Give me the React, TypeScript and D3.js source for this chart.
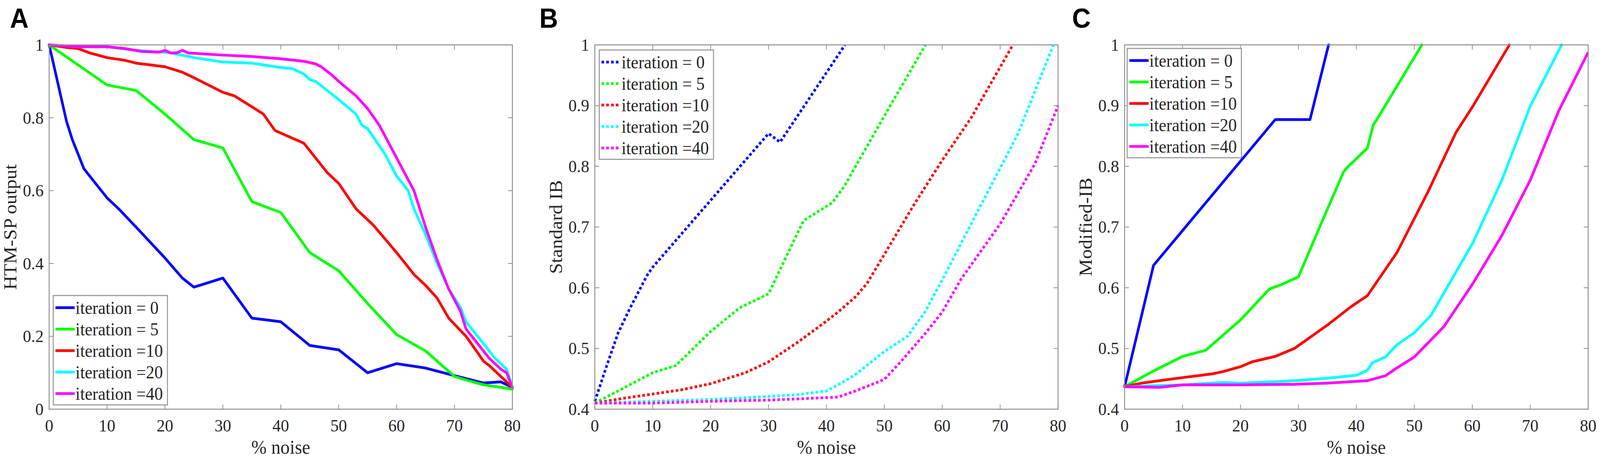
import React from 'react';
import * as d3 from 'd3';

type Pt = [number, number];

// axis ticks
const noiseTicks = [0, 10, 20, 30, 40, 50, 60, 70, 80];
const htmTicks = [0, 0.2, 0.4, 0.6, 0.8, 1];
const ibTicks = [0.4, 0.5, 0.6, 0.7, 0.8, 0.9, 1];

const legendLabels = ['iteration = 0', 'iteration = 5', 'iteration =10', 'iteration =20', 'iteration =40'];
const seriesColors = ['#0000ff', '#00ff00', '#ff0000', '#00ffff', '#ff00ff'];

// Panel A: HTM-SP output vs % noise
const htmIter0: Pt[] = [[0, 1], [1, 0.93], [2, 0.86], [3, 0.79], [4, 0.74], [6, 0.66], [8, 0.62], [10, 0.58], [12, 0.55], [15, 0.5], [20, 0.415], [23, 0.36], [25, 0.335], [30, 0.36], [35, 0.25], [40, 0.24], [45, 0.175], [50, 0.163], [55, 0.1], [60, 0.125], [65, 0.113], [70, 0.092], [75, 0.072], [78, 0.075], [80, 0.06]];
const htmIter5: Pt[] = [[0, 1], [5, 0.945], [10, 0.89], [15, 0.875], [20, 0.81], [25, 0.74], [30, 0.717], [35, 0.57], [40, 0.54], [45, 0.43], [50, 0.38], [55, 0.29], [60, 0.205], [65, 0.16], [70, 0.09], [72, 0.08], [75, 0.067], [78, 0.06], [80, 0.055]];
const htmIter10: Pt[] = [[0, 1], [3, 0.993], [5, 0.99], [7, 0.978], [10, 0.965], [13, 0.958], [15, 0.95], [20, 0.94], [23, 0.925], [25, 0.91], [30, 0.87], [32, 0.86], [35, 0.83], [37, 0.81], [39, 0.765], [44, 0.73], [48, 0.65], [50, 0.62], [53, 0.55], [56, 0.505], [60, 0.43], [63, 0.37], [65, 0.34], [67, 0.305], [69, 0.25], [72, 0.2], [74, 0.155], [75, 0.132], [76, 0.12], [78, 0.09], [80, 0.06]];
const htmIter20: Pt[] = [[0, 1], [5, 0.995], [10, 0.995], [15, 0.985], [20, 0.98], [22, 0.975], [25, 0.965], [30, 0.953], [35, 0.95], [37, 0.945], [40, 0.938], [42, 0.935], [44, 0.92], [45, 0.905], [46, 0.9], [50, 0.85], [53, 0.81], [54, 0.78], [55, 0.77], [58, 0.7], [60, 0.64], [62, 0.6], [63, 0.55], [65, 0.48], [67, 0.4], [69, 0.33], [71, 0.28], [72, 0.24], [75, 0.18], [77, 0.14], [79, 0.11], [80, 0.06]];
const htmIter40: Pt[] = [[0, 1], [5, 0.995], [10, 0.995], [13, 0.99], [16, 0.982], [19, 0.98], [20, 0.985], [21, 0.978], [22, 0.978], [23, 0.985], [24, 0.978], [30, 0.972], [35, 0.968], [40, 0.962], [44, 0.955], [46, 0.948], [47, 0.94], [49, 0.915], [50, 0.9], [53, 0.86], [55, 0.825], [57, 0.78], [60, 0.69], [63, 0.6], [65, 0.5], [67, 0.41], [69, 0.33], [71, 0.27], [72, 0.22], [74, 0.18], [76, 0.14], [78, 0.11], [79, 0.1], [80, 0.06]];

// Panel B: Standard IB
const stdIter0: Pt[] = [[0, 0.413], [2, 0.47], [4, 0.525], [6, 0.565], [9, 0.62], [10, 0.634], [30, 0.854], [32, 0.84], [43.2, 1]];
const stdIter5: Pt[] = [[0, 0.41], [5, 0.435], [10, 0.46], [14, 0.472], [20, 0.528], [25, 0.567], [30, 0.59], [35.2, 0.694], [36.1, 0.711], [41, 0.74], [43, 0.766], [50, 0.883], [57.1, 1]];
const stdIter10: Pt[] = [[0, 0.41], [5, 0.418], [10, 0.425], [15, 0.432], [20, 0.442], [26, 0.46], [30, 0.478], [35, 0.51], [40, 0.545], [42, 0.56], [45, 0.585], [47, 0.607], [50, 0.655], [55, 0.735], [60, 0.81], [65, 0.88], [72.2, 1]];
const stdIter20: Pt[] = [[0, 0.41], [10, 0.413], [20, 0.416], [30, 0.421], [35, 0.424], [40, 0.43], [42, 0.44], [45, 0.457], [50, 0.495], [54, 0.52], [57, 0.56], [60, 0.613], [66.5, 0.733], [73, 0.852], [79.2, 1]];
const stdIter40: Pt[] = [[0, 0.41], [10, 0.41], [20, 0.413], [30, 0.415], [40, 0.419], [42, 0.42], [45, 0.43], [50, 0.449], [53, 0.48], [57, 0.524], [60, 0.56], [63.3, 0.615], [70, 0.705], [76, 0.804], [80, 0.9]];

// Panel C: Modified-IB
const modIter0: Pt[] = [[0, 0.437], [5, 0.637], [26, 0.877], [32, 0.877], [35.2, 1]];
const modIter5: Pt[] = [[0, 0.437], [5, 0.463], [10, 0.487], [14, 0.497], [20, 0.547], [25, 0.598], [27, 0.605], [30, 0.618], [34.2, 0.712], [37.8, 0.791], [38.3, 0.797], [41.9, 0.83], [42.9, 0.868], [43.4, 0.875], [51.3, 1]];
const modIter10: Pt[] = [[0, 0.437], [3, 0.443], [6, 0.447], [10, 0.452], [15, 0.458], [17, 0.462], [20, 0.47], [22, 0.478], [26, 0.487], [29.3, 0.5], [35.2, 0.54], [39.1, 0.569], [41.9, 0.587], [47, 0.658], [52.3, 0.757], [57.2, 0.856], [60.1, 0.899], [66.4, 1]];
const modIter20: Pt[] = [[0, 0.437], [10, 0.44], [17, 0.444], [20, 0.443], [25, 0.445], [29.3, 0.447], [35, 0.451], [40, 0.456], [41.9, 0.464], [42.7, 0.476], [45, 0.486], [47, 0.506], [50, 0.526], [52.9, 0.555], [60.1, 0.674], [65.1, 0.777], [70, 0.899], [75.4, 1]];
const modIter40: Pt[] = [[0, 0.437], [6, 0.436], [10, 0.44], [20, 0.44], [29.3, 0.441], [35, 0.443], [41.9, 0.447], [45, 0.455], [47, 0.468], [50, 0.486], [55.1, 0.536], [60.1, 0.607], [65.1, 0.686], [70, 0.777], [74.9, 0.891], [79.9, 0.986]];

const W = 4328;
const H = 1173;
const TOP = 115;
const BOTTOM = 1048;
const SERIF = '"Liberation Serif", "Times New Roman", serif';
const AXIS_GRAY = '#8e8e8e';
const TEXT = '#262626';

interface PanelProps {
  left: number;
  right: number;
  yDomain: [number, number];
  yTicks: number[];
  series: Pt[][];
  dotted: boolean;
  yTitle: string;
  letter: string;
  letterX: number;
  legendX: number;
  legendY: number;
}

const fmtY = (d: number) => (d === 0 || d === 1 ? String(d) : d.toFixed(1));

const Panel: React.FC<PanelProps> = ({ left, right, yDomain, yTicks, series, dotted, yTitle, letter, letterX, legendX, legendY }) => {
  const x = d3.scaleLinear().domain([0, 80]).range([left, right]);
  const y = d3.scaleLinear().domain(yDomain).range([BOTTOM, TOP]);
  const line = d3.line<Pt>().x(d => x(d[0])).y(d => y(d[1]));
  const tickLen = 12;
  const strokeProps = dotted
    ? { strokeWidth: 7, strokeDasharray: '7 6', strokeLinecap: 'butt' as const }
    : { strokeWidth: 7, strokeLinejoin: 'round' as const, strokeLinecap: 'round' as const };

  return (
    <g>
      <text x={letterX} y={71} fontFamily='"Liberation Sans", Arial, sans-serif' fontWeight="bold" fontSize={70} fill="#000">
        {letter}
      </text>

      {/* ticks, inward on all four sides */}
      {noiseTicks.map(t => (
        <g key={'xt' + t}>
          <line x1={x(t)} x2={x(t)} y1={BOTTOM} y2={BOTTOM - tickLen} stroke={AXIS_GRAY} strokeWidth={2} />
          <line x1={x(t)} x2={x(t)} y1={TOP} y2={TOP + tickLen} stroke={AXIS_GRAY} strokeWidth={2} />
          <text x={x(t)} y={BOTTOM + 57} textAnchor="middle" fontFamily={SERIF} fontSize={45} fill={TEXT}>
            {t}
          </text>
        </g>
      ))}
      {yTicks.map(t => (
        <g key={'yt' + t}>
          <line x1={left} x2={left + tickLen} y1={y(t)} y2={y(t)} stroke={AXIS_GRAY} strokeWidth={2} />
          <line x1={right} x2={right - tickLen} y1={y(t)} y2={y(t)} stroke={AXIS_GRAY} strokeWidth={2} />
          <text x={left - 15} y={y(t) + 15} textAnchor="end" fontFamily={SERIF} fontSize={45} fill={TEXT}>
            {fmtY(t)}
          </text>
        </g>
      ))}

      {/* data lines */}
      {series.map((s, i) => (
        <path key={'s' + i} d={line(s) || ''} fill="none" stroke={seriesColors[i]} {...strokeProps} />
      ))}

      {/* axes box */}
      <rect x={left} y={TOP} width={right - left} height={BOTTOM - TOP} fill="none" stroke={AXIS_GRAY} strokeWidth={2.5} />

      {/* axis titles */}
      <text x={(left + right) / 2} y={1162} textAnchor="middle" fontFamily={SERIF} fontSize={50} fill={TEXT}>
        % noise
      </text>
      <text
        transform={`translate(${left - 105},${(TOP + BOTTOM) / 2}) rotate(-90)`}
        textAnchor="middle"
        dominantBaseline="central"
        fontFamily={SERIF}
        fontSize={50}
        fill={TEXT}
      >
        {yTitle}
      </text>

      {/* legend */}
      <g transform={`translate(${legendX},${legendY})`}>
        <rect x={0} y={0} width={309} height={280} fill="#fff" stroke={AXIS_GRAY} strokeWidth={2.5} />
        {legendLabels.map((lab, i) => {
          const ry = 31 + i * 55;
          return (
            <g key={lab}>
              <line x1={6} x2={58} y1={ry} y2={ry} stroke={seriesColors[i]} {...strokeProps} strokeLinecap="butt" />
              <text x={60} y={ry + 16} fontFamily={SERIF} fontSize={46} fill={TEXT}>
                {lab}
              </text>
            </g>
          );
        })}
      </g>
    </g>
  );
};

export default function App() {
  // fill the whole viewport so the figure keeps the 4328x1173 frame whatever the window reports
  return (
    <div style={{ position: 'fixed', left: 0, top: 0, width: '100vw', height: '100vh', overflow: 'hidden', background: '#fff' }}>
      <svg
        width="100%"
        height="100%"
        viewBox={`0 0 ${W} ${H}`}
        preserveAspectRatio="none"
        style={{ display: 'block' }}
      >
        <rect x={0} y={0} width={W} height={H} fill="#fff" />
        <Panel
          left={133}
          right={1386}
          yDomain={[0, 1]}
          yTicks={htmTicks}
          series={[htmIter0, htmIter5, htmIter10, htmIter20, htmIter40]}
          dotted={false}
          yTitle="HTM-SP output"
          letter="A"
          letterX={27}
          legendX={144}
          legendY={757}
        />
        <Panel
          left={1609}
          right={2862}
          yDomain={[0.4, 1]}
          yTicks={ibTicks}
          series={[stdIter0, stdIter5, stdIter10, stdIter20, stdIter40]}
          dotted={true}
          yTitle="Standard IB"
          letter="B"
          letterX={1459}
          legendX={1621}
          legendY={128}
        />
        <Panel
          left={3042}
          right={4296}
          yDomain={[0.4, 1]}
          yTicks={ibTicks}
          series={[modIter0, modIter5, modIter10, modIter20, modIter40]}
          dotted={false}
          yTitle="Modified-IB"
          letter="C"
          letterX={2900}
          legendX={3049}
          legendY={124}
        />
      </svg>
    </div>
  );
}
